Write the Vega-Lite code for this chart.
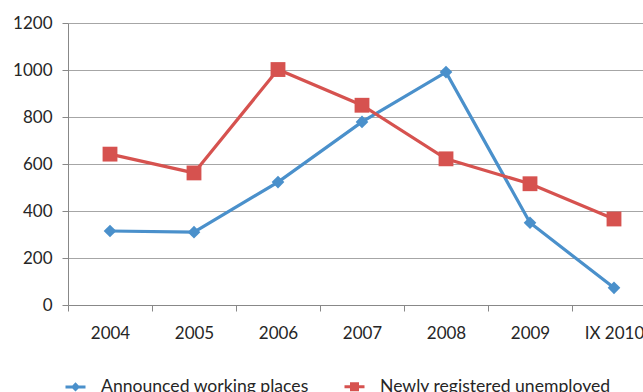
{
  "$schema": "https://vega.github.io/schema/vega-lite/v6.json",
  "width": 588,
  "height": 282,
  "autosize": "none",
  "padding": {"left": 68, "top": 23, "right": 0, "bottom": 87},
  "background": "#ffffff",
  "config": {
    "font": "Lato",
    "view": {"stroke": null},
    "axis": {"labelFont": "Lato", "labelFontSize": 17, "labelColor": "#262626", "domainColor": "#888888", "tickColor": "#888888", "gridColor": "#a6a6a6", "tickSize": 6, "title": null},
    "legend": {"labelFont": "Lato", "labelFontSize": 17.6, "labelColor": "#262626"}
  },
  "data": {"values": [
    {"year": "2004", "series": "Announced working places", "value": 315},
    {"year": "2005", "series": "Announced working places", "value": 310},
    {"year": "2006", "series": "Announced working places", "value": 523},
    {"year": "2007", "series": "Announced working places", "value": 779},
    {"year": "2008", "series": "Announced working places", "value": 991},
    {"year": "2009", "series": "Announced working places", "value": 350},
    {"year": "IX 2010", "series": "Announced working places", "value": 73},
    {"year": "2004", "series": "Newly registered  unemployed", "value": 642},
    {"year": "2005", "series": "Newly registered  unemployed", "value": 562},
    {"year": "2006", "series": "Newly registered  unemployed", "value": 1002},
    {"year": "2007", "series": "Newly registered  unemployed", "value": 850},
    {"year": "2008", "series": "Newly registered  unemployed", "value": 622},
    {"year": "2009", "series": "Newly registered  unemployed", "value": 516},
    {"year": "IX 2010", "series": "Newly registered  unemployed", "value": 366}
  ]},
  "encoding": {
    "x": {"field": "year", "type": "ordinal", "scale": {"type": "band", "paddingInner": 0, "paddingOuter": 0},
      "axis": {"labelAngle": 0, "tickBand": "extent", "labelPadding": 14, "domainColor": "#888888", "grid": false}},
    "y": {"field": "value", "type": "quantitative", "scale": {"domain": [0, 1200]},
      "axis": {"values": [0, 200, 400, 600, 800, 1000, 1200], "format": "d", "labelPadding": 10, "domain": true, "domainColor": "#888888", "grid": true}},
    "color": {"field": "series", "type": "nominal", "scale": {"domain": ["Announced working places", "Newly registered  unemployed"], "range": ["#4a90cb", "#d6524f"]}}
  },
  "layer": [
    {"mark": {"type": "line", "strokeWidth": 3.2},
      "encoding": {"color": {"field": "series", "type": "nominal",
        "legend": {"orient": "none", "legendX": -4, "legendY": 352, "direction": "horizontal", "title": null,
          "symbolSize": 400, "symbolStrokeWidth": 3, "columnPadding": 29, "labelOffset": 14, "labelLimit": 0,
          "encode": {"symbols": {"update": {
            "shape": {"signal": "datum.value === 'Announced working places' ? 'M-1,0H1M-0.25,0L0,-0.25L0.25,0L0,0.25Z' : 'M-1,0H1M-0.3,-0.3H0.3V0.3H-0.3Z'"},
            "fill": {"scale": "color", "field": "value"},
            "stroke": {"scale": "color", "field": "value"},
            "strokeWidth": {"value": 3},
            "opacity": {"value": 1}
          }}}}}}},
    {"mark": {"type": "point", "filled": true, "opacity": 1},
      "encoding": {
        "shape": {"field": "series", "type": "nominal", "scale": {"range": ["diamond", "square"]}, "legend": null},
        "size": {"field": "series", "type": "nominal", "scale": {"range": [160, 220]}, "legend": null}
      }}
  ]
}
